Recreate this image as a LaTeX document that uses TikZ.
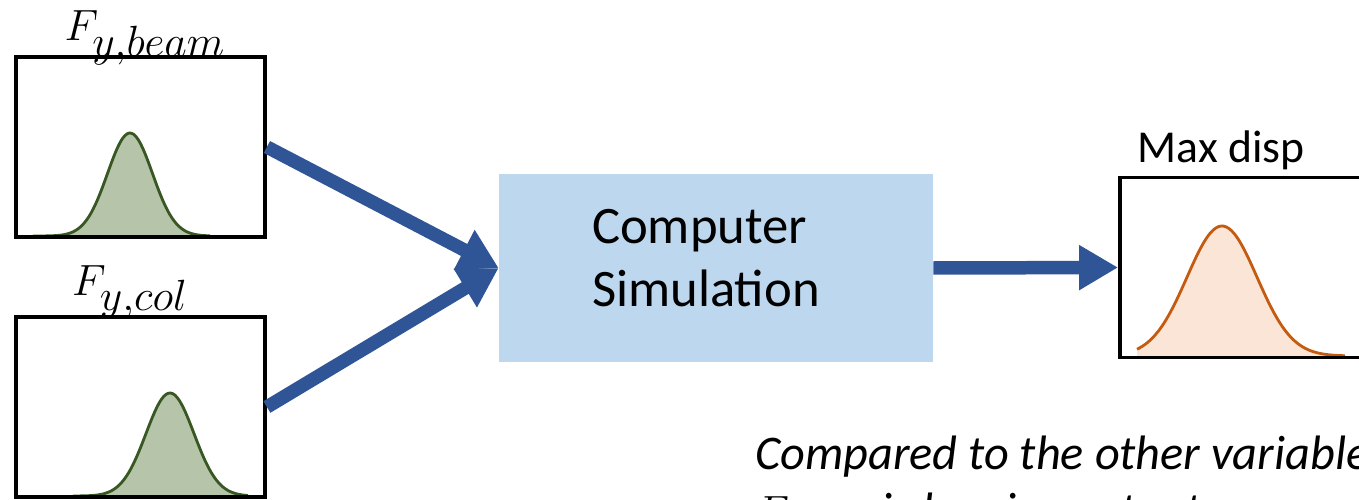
\documentclass[tikz,border=0pt]{standalone}
\usepackage{fontspec}
\setmainfont{Carlito}
\usetikzlibrary{
	positioning,
	arrows.meta
}
\definecolor{ArrowBlue}{RGB}{47,85,151}
\definecolor{SimBlue}{RGB}{189,215,238}
\definecolor{CurveGreen}{RGB}{56,87,35}
\definecolor{FillGreen}{RGB}{182,197,169}
\definecolor{CurveOrange}{RGB}{197,90,17}
\definecolor{FillOrange}{RGB}{251,229,214}

\begin{document}
\begin{tikzpicture}[
	x=0.02cm, y=-0.02cm,
	plotbox/.style={draw=black, line width=2.2pt, minimum width=4.98cm, minimum height=3.6cm, inner sep=0pt},
	flow/.style={-{Triangle[length=0.78cm, width=0.85cm]}, line width=0.27cm, ArrowBlue},
	varlabel/.style={font=\fontsize{23}{28}\selectfont, anchor=base}
	]
	
	\useasboundingbox (0,0) rectangle (1359,500);
	
	% distributions
	\fill[FillGreen] plot[domain=33:210, samples=80, smooth] (\x, {236-103*exp(-((\x-130)/22.5)^2/2)}) -- (210,236) -- (33,236) -- cycle;
	\draw[CurveGreen, line width=1.6pt] plot[domain=33:210, samples=80, smooth] (\x, {236-103*exp(-((\x-130)/22.5)^2/2)});
	
	\fill[FillGreen] plot[domain=73:248, samples=80, smooth] (\x, {496-103*exp(-((\x-170)/24)^2/2)}) -- (248,496) -- (73,496) -- cycle;
	\draw[CurveGreen, line width=1.6pt] plot[domain=73:248, samples=80, smooth] (\x, {496-103*exp(-((\x-170)/24)^2/2)});
	
	\fill[FillOrange] plot[domain=1137:1345, samples=80, smooth] (\x, {356-130*exp(-((\x-1222)/35)^2/2)}) -- (1345,356) -- (1137,356) -- cycle;
	\draw[CurveOrange, line width=1.6pt] plot[domain=1137:1345, samples=80, smooth] (\x, {356-130*exp(-((\x-1222)/35)^2/2)});
	
	% boxes
	\node[plotbox] (beam) at (140.5,147) {};
	\node[plotbox] (col) at (140.5,407) {};
	\node[plotbox] (disp) at (1244.5,267.5) {};
	
	\node[
	fill=SimBlue,
	minimum height=3.76cm,
	text width=4.96cm,
	text depth=1.67cm,
	inner xsep=1.86cm,
	align=left,
	font=\fontsize{30}{36}\selectfont
	] (sim) at (716,268) {Computer\\Simulation};
	
	% labels
	\node[varlabel] (lblbeam) at (145,41) {$F_{\textstyle y{,}beam}$};
	\node[varlabel] (lblcol) at (130,295) {$F_{\textstyle y{,}col}$};
	\node[anchor=base, font=\fontsize{26}{31}\selectfont] (lbldisp) at (1221,162) {Max disp};
	
	\node[
	anchor=base west,
	align=left,
	inner sep=0pt,
	font=\fontsize{27.5}{32}\itshape
	] (note) at (755,526) {Compared to the other variables,\\$F_{\textstyle y{,}col}$ is less important};
	
	% arrows
	\draw[flow] (beam.east) -- (sim.west);
	\draw[flow] (col.east) -- (sim.west);
	\draw[flow] (sim.east) -- (disp.west);
	
\end{tikzpicture}
\end{document}
